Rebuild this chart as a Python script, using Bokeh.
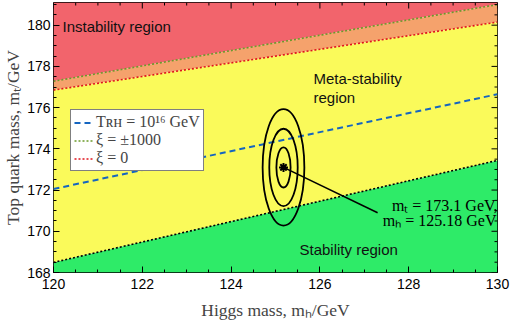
import math
from bokeh.plotting import figure
from bokeh.models import Legend, LegendItem, Label, SingleIntervalTicker
from bokeh.embed import file_html
from bokeh.resources import INLINE

# ---- data ----
mh_grid = [120, 130]
stability_mt = [168.49, 173.44]      # black dotted boundary
xi0_mt = [176.85, 180.15]            # xi = 0 (red dotted)
xi1000_mt = [177.28, 181.0]          # xi = +-1000 (green dotted)
trh_mt = [172.05, 176.65]            # T_RH = 1e16 GeV (blue dashed)
y_min, y_max = 168, 181.1
x_min, x_max = 120, 130

best_mh, best_mt = 125.18, 173.1
ell_w = [0.32, 0.64, 0.94]           # full widths (GeV) of contours
ell_h = [1.95, 3.75, 5.65]           # full heights (GeV)
pointer_end = (127.3, 170.9)

x_major = [120, 122, 124, 126, 128, 130]
x_minor = [120.5, 121, 121.5, 122.5, 123, 123.5, 124.5, 125, 125.5,
           126.5, 127, 127.5, 128.5, 129, 129.5]
y_major = [168, 170, 172, 174, 176, 178, 180]
y_minor = [168.5, 169, 169.5, 170.5, 171, 171.5, 172.5, 173, 173.5, 174.5, 175,
           175.5, 176.5, 177, 177.5, 178.5, 179, 179.5, 180.5, 181]

serif = "Liberation Serif"
sans = "Liberation Sans"

p = figure(width=512, height=325, x_range=(x_min, x_max), y_range=(y_min, y_max),
           output_backend="svg", toolbar_location=None,
           min_border_left=53, min_border_right=15, min_border_top=2, min_border_bottom=53)
p.xgrid.visible = False
p.ygrid.visible = False
p.outline_line_color = "black"
p.outline_line_width = 1

top = [y_max, y_max]
bottom = [y_min, y_min]
p.varea(x=mh_grid, y1=xi1000_mt, y2=top, fill_color="#f2646c")
p.varea(x=mh_grid, y1=xi0_mt, y2=xi1000_mt, fill_color="#f5a26c")
p.varea(x=mh_grid, y1=stability_mt, y2=xi0_mt, fill_color="#fafa5a")
p.varea(x=mh_grid, y1=bottom, y2=stability_mt, fill_color="#2eeb68")

r_trh = p.line(mh_grid, trh_mt, line_color="#1565c0", line_width=2, line_dash="6 4")
r_1000 = p.line(mh_grid, xi1000_mt, line_color="#6b9a2a", line_width=1.6, line_dash="2 2")
r_0 = p.line(mh_grid, xi0_mt, line_color="#e0141c", line_width=1.6, line_dash="2 2")
p.line(mh_grid, stability_mt, line_color="black", line_width=1.6, line_dash="2 2")

for w, h in zip(ell_w, ell_h):
    p.ellipse(x=best_mh, y=best_mt, width=w, height=h, fill_alpha=0,
              line_color="black", line_width=1.8)
p.segment(x0=best_mh, y0=best_mt, x1=pointer_end[0], y1=pointer_end[1],
          line_color="black", line_width=1.5)
p.scatter(x=[best_mh], y=[best_mt], marker="asterisk", size=9,
          line_color="black", line_width=2)

# axes
for ax in (p.xaxis[0], p.yaxis[0]):
    ax.major_tick_in = 6
    ax.major_tick_out = 0
    ax.minor_tick_in = 3
    ax.minor_tick_out = 0
    ax.major_label_text_font = sans
    ax.major_label_text_font_size = "14px"
    ax.major_label_text_color = "black"
    ax.axis_label_text_font = serif
    ax.axis_label_text_font_style = "normal"
    ax.axis_label_text_font_size = "17.5px"
    ax.axis_line_color = None
    ax.major_tick_line_color = "black"
    ax.minor_tick_line_color = "black"
p.xaxis.ticker = SingleIntervalTicker(interval=2, num_minor_ticks=4)
p.yaxis.ticker = SingleIntervalTicker(interval=2, num_minor_ticks=4)
p.xaxis.axis_label = "Higgs mass, mₕ/GeV"
p.yaxis.axis_label = "Top quark mass, mₜ/GeV"
p.xaxis.major_label_standoff = 6
p.yaxis.major_label_standoff = 3
p.xaxis.axis_label_standoff = 8
p.yaxis.axis_label_standoff = 1

# ticks on top and right edges (inward)
p.ray(x=x_major, y=y_max, length=6, length_units="screen", angle=-math.pi / 2,
      line_color="black", line_width=1)
p.ray(x=x_minor, y=y_max, length=3, length_units="screen", angle=-math.pi / 2,
      line_color="black", line_width=1)
p.ray(x=x_max, y=y_major, length=6, length_units="screen", angle=math.pi,
      line_color="black", line_width=1)
p.ray(x=x_max, y=y_minor, length=3, length_units="screen", angle=math.pi,
      line_color="black", line_width=1)

legend = Legend(items=[
    LegendItem(label="Tʀʜ = 10¹⁶ GeV", renderers=[r_trh]),
    LegendItem(label="ξ = ±1000", renderers=[r_1000]),
    LegendItem(label="ξ = 0", renderers=[r_0]),
], location=(17, 101), label_text_font=serif, label_text_font_size="16px",
    glyph_width=20, glyph_height=15, label_height=15, label_standoff=2, spacing=0,
    padding=3, margin=0, border_line_color="black", border_line_width=1,
    background_fill_alpha=1)
p.add_layout(legend, "center")

lbl = dict(x_units="screen", y_units="screen", text_font=sans, text_font_size="15px",
           text_color="#111111", text_baseline="middle")
p.add_layout(Label(x=9, y=246, text="Instability region", **lbl))
p.add_layout(Label(x=260, y=194, text="Meta-stability", **lbl))
p.add_layout(Label(x=260, y=175, text="region", **lbl))
p.add_layout(Label(x=246, y=23, text="Stability region", **lbl))

mlbl = dict(x_units="screen", y_units="screen", text_font=serif, text_font_size="16px",
            text_color="black", text_align="right", text_baseline="middle")
p.add_layout(Label(x=444, y=67, text="mₜ = 173.1 GeV,", **mlbl))
p.add_layout(Label(x=443, y=52, text="mₕ = 125.18 GeV", **mlbl))

open("out.html", "w").write(file_html(p, INLINE))
